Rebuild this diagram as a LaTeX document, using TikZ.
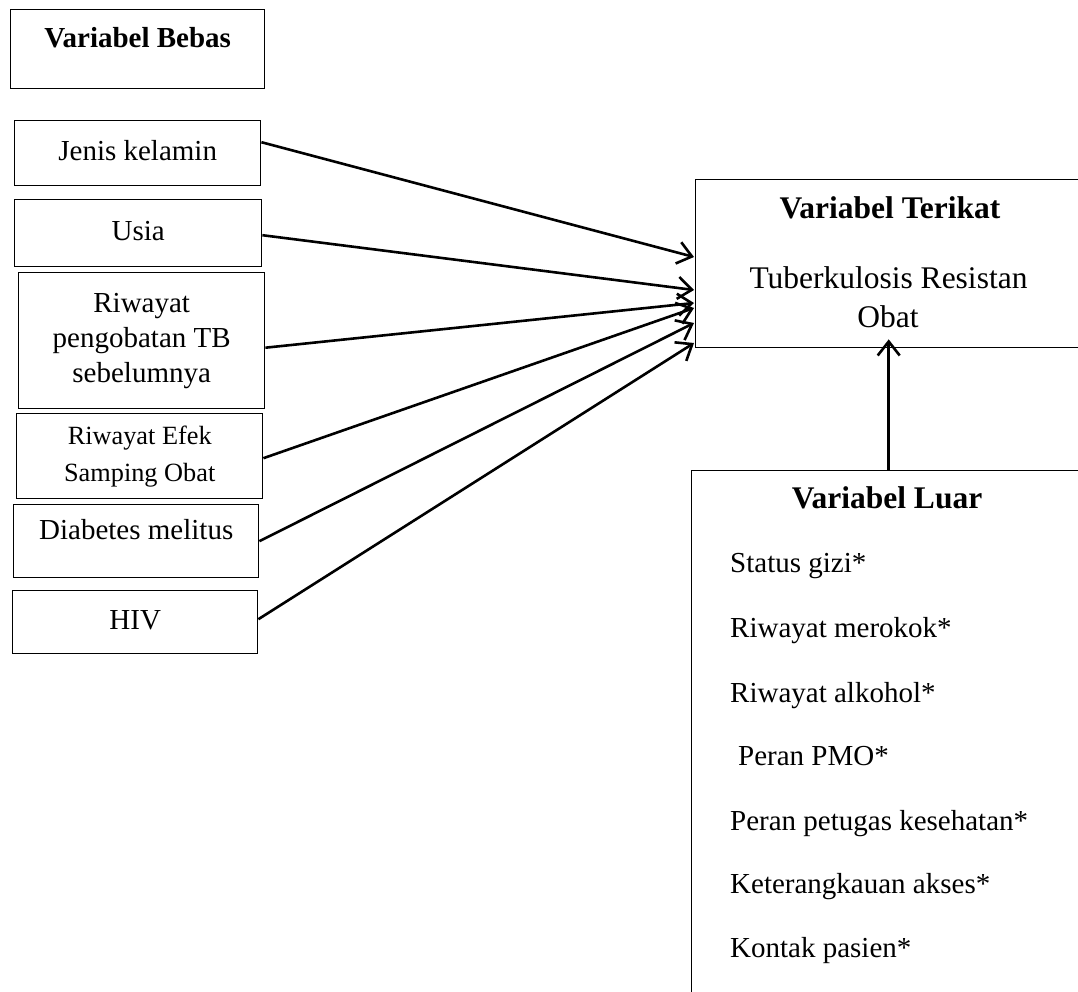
\documentclass[tikz,border=0pt]{standalone}
\usepackage{fontspec}
\setmainfont{Liberation Serif}
\usetikzlibrary{arrows.meta}
\begin{document}
\begin{tikzpicture}[x=1pt,y=-1pt,
  box/.style={draw, line width=1.4pt, inner sep=0pt, anchor=north west, align=center,
    font=\fontsize{29}{35}\selectfont},
  one/.style={text height=20pt, text depth=6pt},
  up/.style={text height=20pt, text depth=23pt},
  ttl/.style={font=\fontsize{31.5}{38}\selectfont\bfseries, inner sep=0pt, anchor=base},
  body/.style={font=\fontsize{31.5}{38}\selectfont, inner sep=0pt, anchor=base},
  item/.style={font=\fontsize{29}{35}\selectfont, inner sep=0pt, anchor=base west},
  arr/.style={line width=2.6pt, -{Straight Barb[length=14pt,width=22pt,line width=2.6pt]}}]
\useasboundingbox (0,0) rectangle (1078,992);
\clip (0,0) rectangle (1078,992);

% left column
\node[box, up, minimum width=254pt, minimum height=79pt, font=\fontsize{29}{35}\selectfont\bfseries] (bebas) at (10,9) {Variabel Bebas};
\node[box, one, minimum width=246pt, minimum height=65pt] (jk) at (14,120) {Jenis kelamin};
\node[box, one, minimum width=247pt, minimum height=67pt] (usia) at (14,199) {Usia};
\node[box, minimum width=246pt, minimum height=136pt] (rp) at (18,272) {Riwayat\\pengobatan TB\\sebelumnya};
\node[box, minimum width=246pt, minimum height=85pt, font=\fontsize{26.3}{37}\selectfont] (efek) at (16,413) {Riwayat Efek\\Samping Obat};
\node[box, up, minimum width=245pt, minimum height=73pt] (dm) at (13,504) {Diabetes melitus};
\node[box, one, minimum width=245pt, minimum height=63pt] (hiv) at (12,590) {HIV};

% dependent variable
\node[box, minimum width=390pt, minimum height=168pt] (T) at (695,179) {};
\node[ttl] (Tt) at (890,219) {Variabel Terikat};
\node[body] (Tb1) at (888.5,288) {Tuberkulosis Resistan};
\node[body] (Tb2) at (888,327) {Obat};

% external variables
\node[box, minimum width=394pt, minimum height=540pt] (L) at (691,470) {};
\node[ttl] (Lt) at (887,508) {Variabel Luar};
\node[item] (l1) at (730,572) {Status gizi*};
\node[item] (l2) at (730,637) {Riwayat merokok*};
\node[item] (l3) at (730,702) {Riwayat alkohol*};
\node[item] (l4) at (738,765) {Peran PMO*};
\node[item] (l5) at (730,830) {Peran petugas kesehatan*};
\node[item] (l6) at (730,893) {Keterangkauan akses*};
\node[item] (l7) at (730,957) {Kontak pasien*};

% arrows
\draw[arr] ([yshift=11pt]jk.east)  -- ([yshift=-78pt,xshift=-1pt]T.north west);
\draw[arr] ([yshift=-2pt]usia.east) -- ([yshift=-111pt,xshift=-1pt]T.north west);
\draw[arr] ([yshift=-7pt]rp.east)   -- ([yshift=-124pt,xshift=-1pt]T.north west);
\draw[arr] ([yshift=-2pt]efek.east) -- ([yshift=-129pt,xshift=-1pt]T.north west);
\draw[arr] (dm.east)                -- ([yshift=-144pt,xshift=-1pt]T.north west);
\draw[arr] ([yshift=3pt]hiv.east)   -- ([yshift=-164pt,xshift=-1pt]T.north west);
\draw[arr] (L.north) -- ([yshift=9pt]L.north |- T.south);
\end{tikzpicture}
\end{document}
